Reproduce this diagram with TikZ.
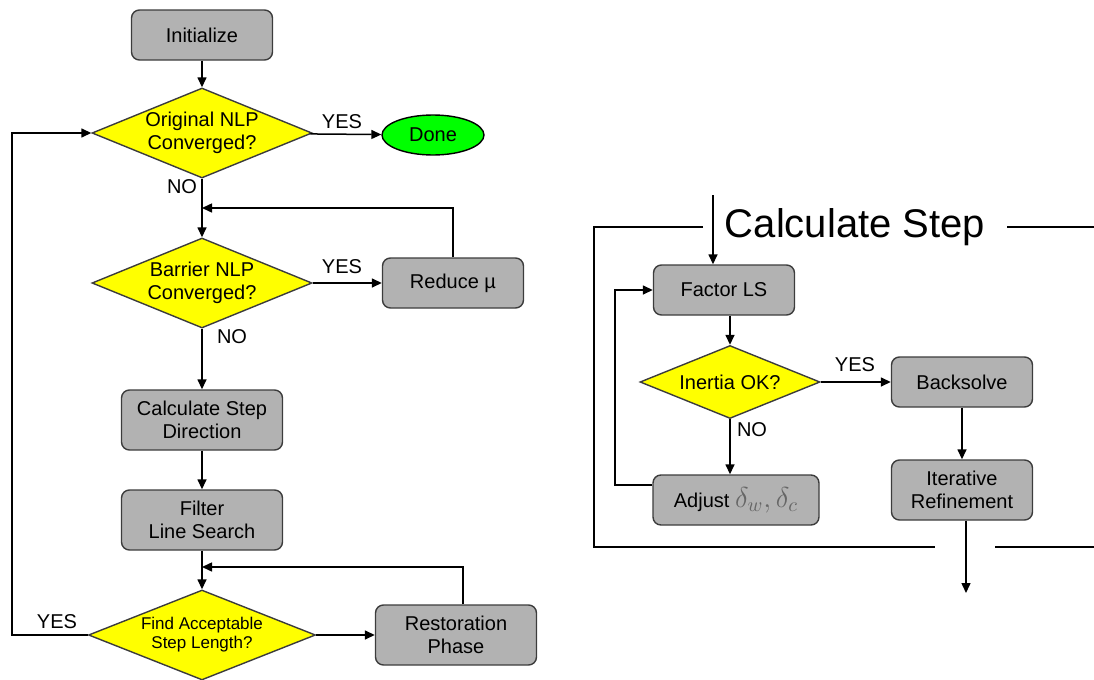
\documentclass[tikz,border=0pt]{standalone}
\usepackage[no-math]{fontspec}
\setmainfont{Liberation Sans}
\usepackage{amsmath}
\usetikzlibrary{positioning, calc, shapes.geometric, arrows.meta}
\definecolor{boxgray}{RGB}{178,178,178}
\definecolor{edgegray}{RGB}{60,60,60}
\definecolor{qyellow}{RGB}{255,255,0}
\definecolor{donegreen}{RGB}{0,255,0}
\tikzset{
  every node/.style={font=\fontsize{10}{11.5}\selectfont, text=black},
  proc/.style={draw=edgegray, fill=boxgray, rounded corners=4pt, line width=0.7pt, align=center, minimum width=70.5pt, minimum height=25pt, inner sep=1pt},
  wideproc/.style={proc, minimum width=80.5pt, minimum height=30pt},
  decide/.style={diamond, aspect=2.4, draw=edgegray, fill=qyellow, line width=0.7pt, align=center, inner sep=0pt, minimum width=110pt, minimum height=45pt},
  term/.style={ellipse, draw=black, fill=donegreen, line width=0.7pt, minimum width=51pt, minimum height=20pt},
  flow/.style={draw=black, line width=0.75pt, -{Triangle[length=5pt, width=4.5pt]}},
  wire/.style={draw=black, line width=0.75pt},
  yn/.style={font=\fontsize{10}{11}\selectfont, inner sep=0pt},
}

\begin{document}
\begin{tikzpicture}[x=0.5pt, y=-0.5pt]
  \useasboundingbox (0,0) rectangle (1094,680);

  % ---- main loop: left column ----------------------------------------------
  \node[proc] (init) at (202,35) {Initialize};
  \node[decide] (orig) at (202,133) {Original NLP\\Converged?};
  \node[term] (done) at (433,135) {Done};
  \node[decide] (barr) at (202,283) {Barrier NLP\\Converged?};
  \node[proc] (mu) at (453,283) {Reduce µ};
  \node[wideproc] (dir) at (202,420) {Calculate Step\\Direction};
  \node[wideproc] (ls) at (202,520) {Filter\\Line Search};
  \node[decide, minimum width=113.5pt, font=\fontsize{8.5}{9.5}\selectfont] (acc) at (202,635) {Find Acceptable\\Step Length?};
  \node[wideproc] (rest) at (456,635) {Restoration\\Phase};

  % ---- joins and loop corners ------------------------------------------------
  \coordinate (j1) at (202,208);
  \coordinate (j2) at (202,567);
  \coordinate (back) at (12,635);

  % ---- edges ---------------------------------------------------------------
  \draw[flow] (init) -- (orig);
  \draw[flow] (orig) -- (done);
  \draw[flow] (orig) -- (barr);
  \draw[flow] (barr) -- (mu);
  \draw[flow] (mu.north) |- (j1);
  \draw[flow] (barr) -- (dir);
  \draw[flow] (dir) -- (ls);
  \draw[flow] (ls) -- (acc);
  \draw[flow] (acc) -- (rest);
  \draw[flow] ([xshift=3.5pt]rest.north) |- (j2);
  \draw[flow] (acc.west) -- (back) |- (orig.west);

  % ---- yes / no labels -----------------------------------------------------
  \node[yn] at (342,122) {YES};
  \node[yn] at (182,187) {NO};
  \node[yn] at (342,267) {YES};
  \node[yn] at (232,337) {NO};
  \node[yn] at (57,622) {YES};

  % ---- calculate step panel ------------------------------------------------
  \node[font=\fontsize{20}{22}\selectfont] (ttl) at (855,227) {Calculate Step};
  \draw[wire] (703,227) -- (594,227) |- (935,547);
  \draw[wire] (1007,227) -- (1094,227);
  \draw[wire] (995,547) -- (1094,547);

  \node[proc] (fls) at (724,290) {Factor LS};
  \node[decide, minimum width=90pt, minimum height=36.5pt] (ok) at (730,382) {Inertia OK?};
  \node[proc] (bs) at (962,382) {Backsolve};
  \node[proc, minimum height=30pt] (ir) at (962,490) {Iterative\\Refinement};
  \node[proc, minimum width=83pt] (adj) at (736,500) {Adjust {\fontsize{14}{14}\selectfont\color{black!60}$\delta_w,\delta_c$}};

  \coordinate (in) at (713,195);
  \coordinate (lp) at (615,485);
  \coordinate (out) at (966,593);

  \draw[flow] (in) -- (in |- fls.north);
  \draw[flow] (fls.south -| ok.north) -- (ok.north);
  \draw[flow] (ok) -- (bs);
  \draw[flow] (ok) -- (ok |- adj.north);
  \draw[flow] (adj.west |- lp) -- (lp) |- (fls.west);
  \draw[flow] (bs) -- (ir);
  \draw[flow] (ir.south -| out) -- (out);

  \node[yn] at (855,365) {YES};
  \node[yn] at (752,430) {NO};
\end{tikzpicture}
\end{document}
